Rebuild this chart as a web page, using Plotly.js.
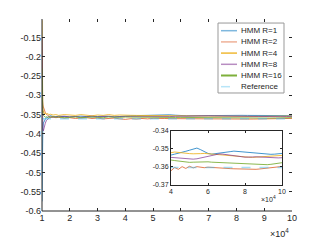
<!DOCTYPE html>
<html>
<head>
<meta charset="utf-8">
<script src="https://cdn.plot.ly/plotly-3.0.1.min.js"></script>
<style>html,body{margin:0;padding:0;background:#fff;}#chart{width:321px;height:241px;}</style>
</head>
<body>
<div id="chart"></div>
<script>
// iteration index (x 10^4)
var iterations = [1,1.01,1.03,1.05,1.08,1.12,1.16,1.2,1.25,1.3,1.4,1.5,1.6,1.8,2,2.2,2.4,2.6,2.8,3,3.2,3.4,3.6,3.8,
  4,4.2,4.4,4.6,4.8,5,5.2,5.4,5.6,5.8,6,6.2,6.4,6.6,6.8,7,7.2,7.4,7.6,7.8,8,8.2,8.4,8.6,8.8,9,9.2,9.4,9.6,9.8,10];

var hmmR1 = [-0.575,-0.40,-0.385,-0.372,-0.365,-0.362,-0.358,-0.356,-0.354,-0.353,-0.355,-0.356,-0.354,-0.355,-0.356,-0.355,-0.354,-0.355,-0.356,-0.355,-0.354,-0.355,-0.356,-0.355,
  -0.3535,-0.3530,-0.3526,-0.3520,-0.3514,-0.3508,-0.3500,-0.3496,-0.3505,-0.3515,-0.3526,-0.3530,-0.3528,-0.3525,-0.3522,-0.3520,-0.3516,-0.3513,-0.3515,-0.3517,-0.3518,-0.3519,-0.3521,-0.3523,-0.3525,-0.3527,-0.3529,-0.3531,-0.3530,-0.3528,-0.3526];

var hmmR2 = [-0.30,-0.315,-0.325,-0.330,-0.338,-0.345,-0.349,-0.352,-0.355,-0.357,-0.356,-0.358,-0.357,-0.359,-0.358,-0.360,-0.359,-0.358,-0.360,-0.359,-0.361,-0.360,-0.359,-0.361,
  -0.3623,-0.3605,-0.3615,-0.3600,-0.3610,-0.3598,-0.3607,-0.3600,-0.3604,-0.3606,-0.3603,-0.3605,-0.3607,-0.3606,-0.3608,-0.3610,-0.3611,-0.3612,-0.3613,-0.3614,-0.3615,-0.3616,-0.3616,-0.3615,-0.3613,-0.3611,-0.3609,-0.3606,-0.3603,-0.3601,-0.3599];

var hmmR4 = [-0.105,-0.30,-0.345,-0.340,-0.348,-0.345,-0.350,-0.347,-0.350,-0.349,-0.351,-0.350,-0.352,-0.350,-0.351,-0.352,-0.350,-0.351,-0.353,-0.351,-0.352,-0.350,-0.352,-0.351,
  -0.3522,-0.3518,-0.3521,-0.3523,-0.3526,-0.3527,-0.3528,-0.3529,-0.3527,-0.3526,-0.3528,-0.3531,-0.3532,-0.3533,-0.3534,-0.3535,-0.3537,-0.3540,-0.3542,-0.3544,-0.3545,-0.3547,-0.3548,-0.3547,-0.3545,-0.3543,-0.3541,-0.3540,-0.3539,-0.3538,-0.3537];

var hmmR8 = [-0.15,-0.36,-0.385,-0.392,-0.378,-0.372,-0.365,-0.362,-0.358,-0.356,-0.357,-0.355,-0.356,-0.354,-0.356,-0.355,-0.357,-0.355,-0.354,-0.356,-0.355,-0.354,-0.356,-0.355,
  -0.3548,-0.3550,-0.3552,-0.3555,-0.3557,-0.3559,-0.3558,-0.3556,-0.3551,-0.3545,-0.3540,-0.3535,-0.3531,-0.3529,-0.3530,-0.3532,-0.3535,-0.3538,-0.3541,-0.3544,-0.3547,-0.3548,-0.3546,-0.3545,-0.3546,-0.3548,-0.3550,-0.3552,-0.3553,-0.3551,-0.3550];

var hmmR16 = [-0.23,-0.34,-0.350,-0.352,-0.354,-0.357,-0.355,-0.358,-0.356,-0.357,-0.355,-0.357,-0.356,-0.358,-0.357,-0.356,-0.358,-0.357,-0.356,-0.357,-0.358,-0.356,-0.357,-0.357,
  -0.3563,-0.3566,-0.3569,-0.3571,-0.3574,-0.3576,-0.3575,-0.3574,-0.3573,-0.3574,-0.3573,-0.3575,-0.3576,-0.3577,-0.3578,-0.3578,-0.3580,-0.3582,-0.3583,-0.3585,-0.3587,-0.3588,-0.3589,-0.3590,-0.3591,-0.3591,-0.3589,-0.3587,-0.3584,-0.3581,-0.3578];

var referenceX = [1, 10];
var referenceY = [-0.3605, -0.3605];

var seriesNames = ['HMM R=1','HMM R=2','HMM R=4','HMM R=8','HMM R=16','Reference'];
var seriesColors = ['rgba(0,114,189,0.75)','rgba(217,83,25,0.75)','rgba(237,177,32,0.85)','rgba(126,47,142,0.7)','rgba(119,172,48,0.85)','rgba(77,190,238,0.5)'];
var legendColors = ['rgba(0,114,189,0.5)','rgba(217,83,25,0.45)','rgba(237,177,32,0.9)','rgba(126,47,142,0.55)','rgba(119,172,48,0.95)','rgba(77,190,238,0.4)'];

var mainYTicks = [-0.6,-0.55,-0.5,-0.45,-0.4,-0.35,-0.3,-0.25,-0.2,-0.15];
var mainYText = ['-0.6','-0.55','-0.5','-0.45','-0.4','-0.35','-0.3','-0.25','-0.2','-0.15'];
var mainXTicks = [1,2,3,4,5,6,7,8,9,10];
var insetXTicks = [4,6,8,10];
var insetYTicks = [-0.37,-0.36,-0.35,-0.34];
var insetYText = ['-0.37','-0.36','-0.35','-0.34'];

var ys = [hmmR1, hmmR2, hmmR4, hmmR8, hmmR16];
var traces = [];
['', '2'].forEach(function(sfx){
  ys.forEach(function(y, i){
    traces.push({x: iterations, y: y, type:'scatter', mode:'lines', name: seriesNames[i],
      line:{color: seriesColors[i], width:1}, xaxis:'x'+sfx, yaxis:'y'+sfx, hoverinfo:'skip'});
  });
  traces.push({x: referenceX, y: referenceY, type:'scatter', mode:'lines', name: seriesNames[5],
    line:{color: seriesColors[5], width:1.5, dash:'dash'}, xaxis:'x'+sfx, yaxis:'y'+sfx, hoverinfo:'skip'});
});

var axCol = '#262626';
var shapes = [
  {type:'line', xref:'paper', yref:'paper', x0:0, x1:0, y0:0, y1:1, line:{color:axCol, width:1}},
  {type:'line', xref:'paper', yref:'paper', x0:0, x1:1, y0:0, y1:0, line:{color:axCol, width:1}},
  {type:'rect', xref:'paper', yref:'paper', x0:0.704, x1:0.968, y0:0.6146, y1:0.979, fillcolor:'#ffffff', line:{color:'#999999', width:1}, layer:'above'}
];
var annotations = [
  {xref:'paper', yref:'paper', x:0.995, y:-0.115, xanchor:'right', yanchor:'middle', text:'\u00d710<sup>4</sup>', showarrow:false, font:{size:9, color:axCol}},
  {xref:'paper', yref:'paper', x:0.944, y:0.062, xanchor:'right', yanchor:'middle', text:'\u00d710<sup>4</sup>', showarrow:false, font:{size:7, color:axCol}}
];
seriesNames.forEach(function(nm, i){
  var py = 30.7 + 11.2*i;
  var yp = (211 - py)/192;
  shapes.push({type:'line', xref:'paper', yref:'paper', x0:0.716, x1:0.78, y0:yp, y1:yp, layer:'above',
    line:{color: legendColors[i], width:(i===4?2:1.5), dash:(i===5?'dash':'solid')}});
  annotations.push({xref:'paper', yref:'paper', x:0.786, y:yp, xanchor:'left', yanchor:'middle', text:nm, showarrow:false,
    font:{size:8, color:axCol}});
});

var layout = {
  width:321, height:241,
  margin:{l:42, r:29, t:19, b:30, pad:0},
  showlegend:false,
  paper_bgcolor:'#ffffff', plot_bgcolor:'#ffffff',
  font:{family:'"Liberation Sans", Arial, sans-serif', size:9, color:axCol},
  xaxis:{range:[1,10], tickvals:mainXTicks, ticks:'inside', ticklen:3, tickcolor:axCol, tickwidth:1,
    showline:false, mirror:'ticks', showgrid:false, zeroline:false, tickfont:{size:9, color:axCol}},
  yaxis:{range:[-0.6,-0.102], tickvals:mainYTicks, ticktext:mainYText, ticks:'inside', ticklen:3, tickcolor:axCol, tickwidth:1,
    showline:false, mirror:'ticks', showgrid:false, zeroline:false, tickfont:{size:9, color:axCol}},
  xaxis2:{domain:[0.516,0.96], anchor:'y2', range:[4,10], tickvals:insetXTicks, ticks:'inside', ticklen:2, tickcolor:axCol,
    showline:true, linecolor:axCol, linewidth:1, mirror:'ticks', showgrid:false, zeroline:false, tickfont:{size:7, color:axCol}},
  yaxis2:{domain:[0.138,0.417], anchor:'x2', range:[-0.37,-0.34], tickvals:insetYTicks, ticktext:insetYText, ticks:'inside', ticklen:2, tickcolor:axCol,
    showline:true, linecolor:axCol, linewidth:1, mirror:'ticks', showgrid:false, zeroline:false, tickfont:{size:7, color:axCol}},
  shapes:shapes,
  annotations:annotations
};

Plotly.newPlot('chart', traces, layout, {staticPlot:true, displayModeBar:false});
</script>
</body>
</html>
